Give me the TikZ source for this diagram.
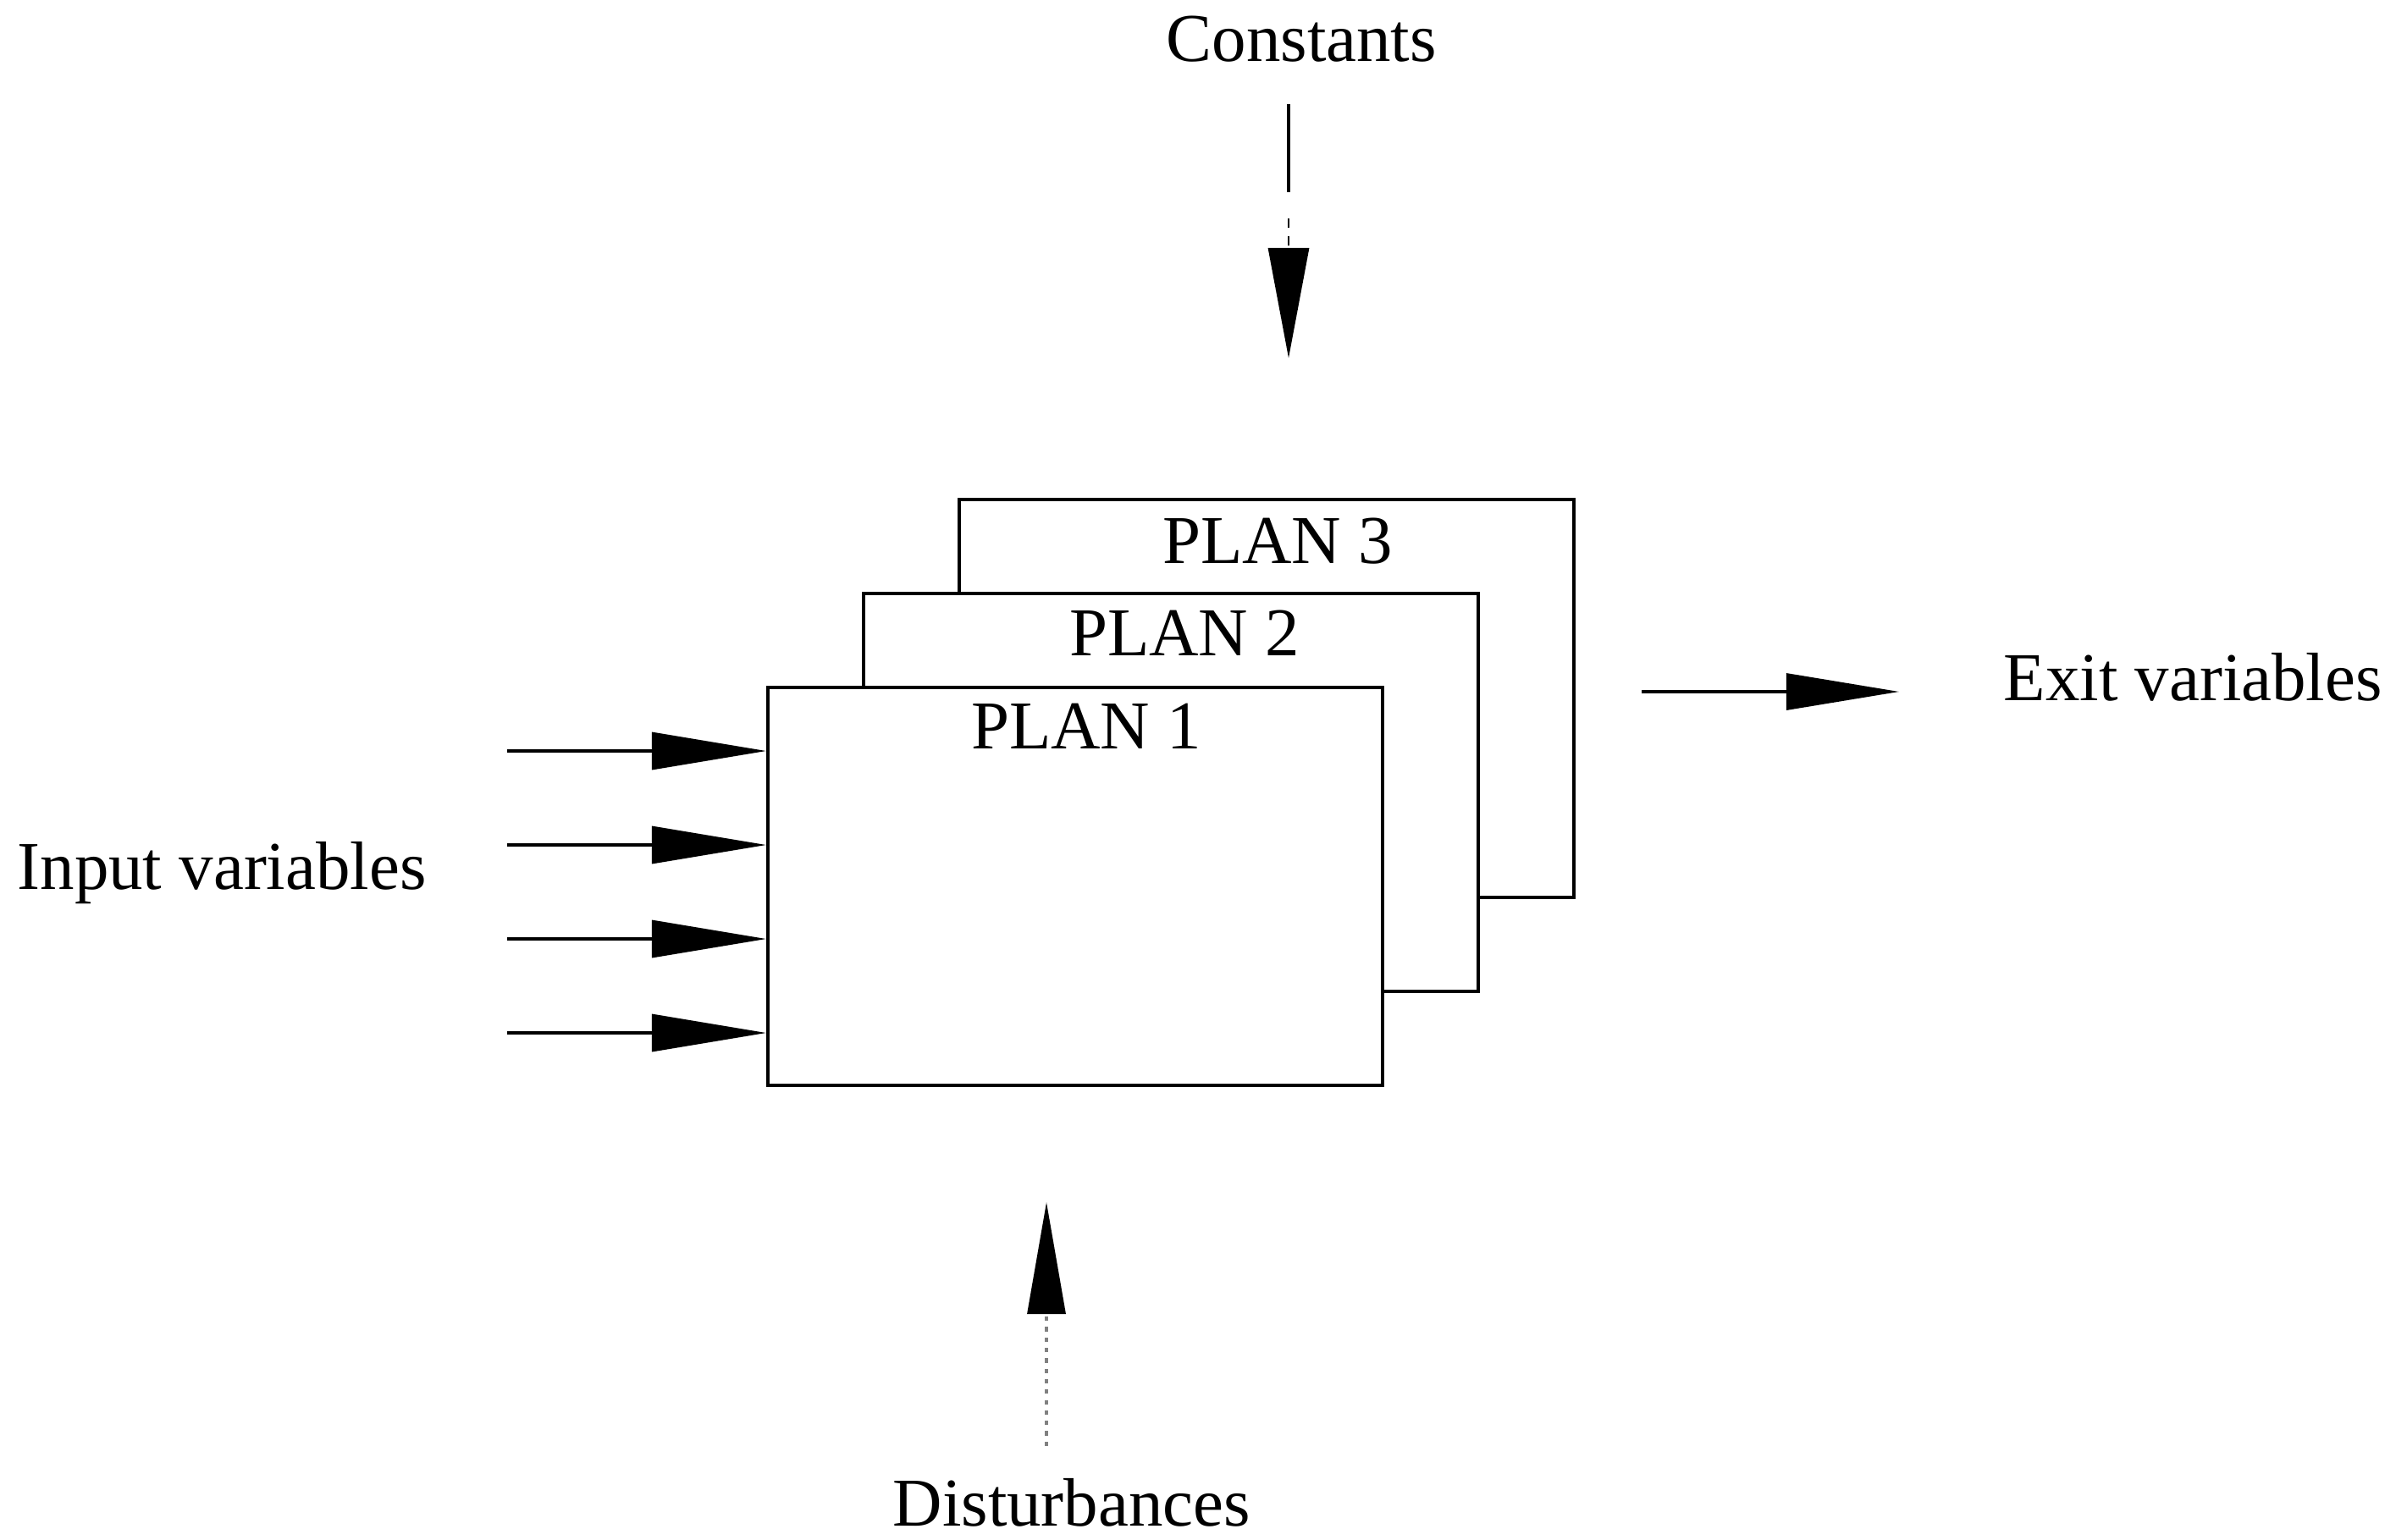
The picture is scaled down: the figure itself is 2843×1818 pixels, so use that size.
\documentclass[tikz,border=0pt]{standalone}
\usepackage{fontspec}
\setmainfont{Liberation Serif}
\usetikzlibrary{arrows.meta}
\begin{document}
\begin{tikzpicture}[x=0.01cm,y=-0.01cm,
  planbox/.style={draw, line width=1.1pt, fill=white, inner sep=0pt,
    minimum width=7.26cm, minimum height=4.7cm, anchor=north west},
  lbl/.style={inner sep=0pt, font=\fontsize{23}{27}\selectfont},
  inarrow/.style={line width=0.9pt, -{Triangle[length=1.35cm,width=0.44cm]}},
  exitarrow/.style={line width=0.9pt, -{Triangle[length=1.33cm,width=0.43cm]}},
  constarrow/.style={line width=0.8pt, dash pattern=on 3pt off 3pt, -{Triangle[length=1.3cm,width=0.48cm]}},
  distarrow/.style={line width=0.9pt, gray, dash pattern=on 1.5pt off 2pt, -{Triangle[length=1.32cm,width=0.45cm,color=black,fill=black]}}]
\useasboundingbox (0,0) rectangle (2843,1818);

% stacked plan boxes (back to front)
\node[planbox] (p3) at (1131,588) {};
\node[planbox] (p2) at (1018,699) {};
\node[planbox] (p1) at (905,810) {};

\node[lbl, anchor=base] (t3) at (1509,665) {PLAN 3};
\node[lbl, anchor=base] (t2) at (1399,774) {PLAN 2};
\node[lbl, anchor=base] (t1) at (1283,884) {PLAN 1};

% input arrows
\foreach \y [count=\i] in {887,998,1109,1220} {
  \coordinate (in\i) at (599,\y);
  \draw[inarrow] (in\i) -- (in\i -| p1.west);
}
\node[lbl, anchor=base west] (input) at (20,1050) {Input variables};

% exit arrow
\coordinate (ex1) at (1939,817);
\coordinate (ex2) at (2243,817);
\draw[exitarrow] (ex1) -- (ex2);
\node[lbl, anchor=base west] (exit) at (2366,827) {Exit variables};

% constants
\node[lbl, anchor=base west] (const) at (1377,72) {Constants};
\coordinate (c1) at (1522,123);
\coordinate (c2) at (1522,227);
\coordinate (c3) at (1522,258);
\coordinate (c4) at (1522,423);
\draw[line width=0.9pt] (c1) -- (c2);
\draw[constarrow] (c3) -- (c4);

% disturbances
\coordinate (d1) at (1236,1708);
\coordinate (d2) at (1236,1420);
\draw[distarrow] (d1) -- (d2);
\node[lbl, anchor=base west] (dist) at (1054,1802) {Disturbances};
\end{tikzpicture}
\end{document}
